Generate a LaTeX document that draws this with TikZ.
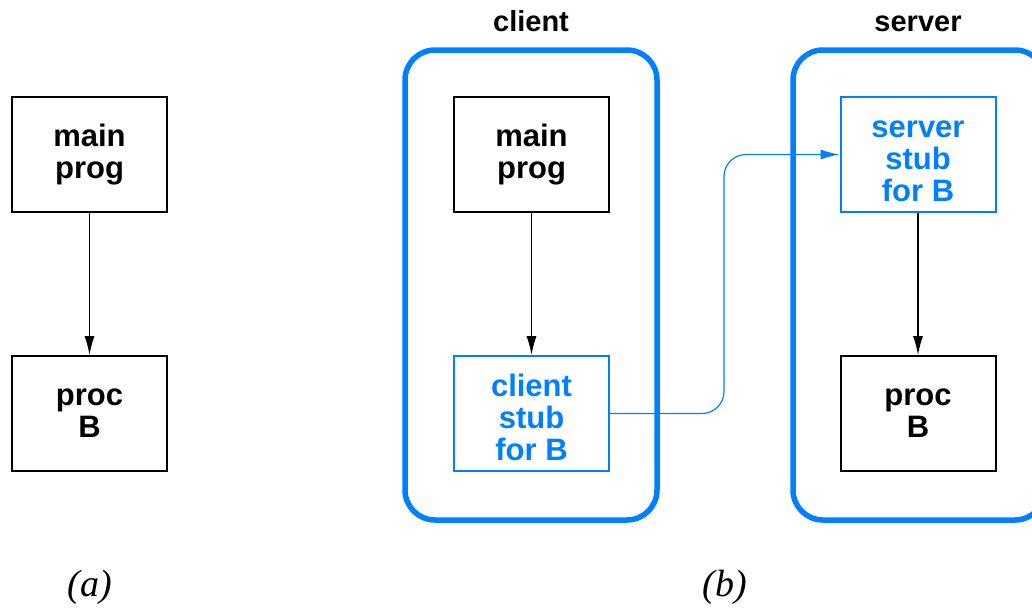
\documentclass[tikz,border=0pt]{standalone}
\usepackage{fontspec}
\setmainfont{Liberation Sans}
\newfontfamily\capfont{Liberation Serif}
\usetikzlibrary{arrows.meta}
\definecolor{stubblue}{RGB}{0,128,255}

\begin{document}
\begin{tikzpicture}[x=1pt,y=-1pt,
  box/.style={draw,line width=2pt,minimum width=155pt,minimum height=115pt,
    align=center,font=\fontsize{31}{32}\selectfont\bfseries,inner sep=0pt},
  stubbox/.style={box,draw=stubblue,text=stubblue},
  container/.style={draw=stubblue,line width=5.5pt,rounded corners=30pt},
  title/.style={anchor=base,font=\fontsize{29}{30}\selectfont\bfseries},
  caption/.style={font=\capfont\itshape\fontsize{38}{38}\selectfont},
  call/.style={-{Latex[length=19pt,width=10pt]},line width=1.2pt}]
\useasboundingbox (0,0) rectangle (1032,608);
\clip (0,0) rectangle (1032,608);
%%Containers
\draw[container] (405,50) rectangle (657,520);
\draw[container] (793,50) rectangle (1045,520);
\node[title] (clientlbl) at (531,31) {client};
\node[title] (serverlbl) at (918,31) {server};

%%Boxes (a)
\node[box] (mainA) at (89.5,154.5) {main\\prog};
\node[box] (procA) at (89.5,413.5) {proc\\B};
%%Boxes (b)
\node[box] (mainB) at (531.5,154.5) {main\\prog};
\node[stubbox] (cstub) at (531.5,413.5) {\rule{0pt}{31pt}client\\stub\\for B};
\node[stubbox] (sstub) at (918,154.5) {\rule{0pt}{31pt}server\\stub\\for B};
\node[box] (procB) at (918,413.5) {proc\\B};

%%Calls
\draw[call] (mainA) -- (procA);
\draw[call] (mainB) -- (cstub);
\draw[call] (sstub) -- (procB);
\draw[call,stubblue,rounded corners=22pt] (cstub.east) -- (724,413.5) -- (724,154.5) -- (sstub.west);

%%Label
\node[caption] (capA) at (89.5,587) {(a)};
\node[caption] (capB) at (725,587) {(b)};
\end{tikzpicture}
\end{document}
